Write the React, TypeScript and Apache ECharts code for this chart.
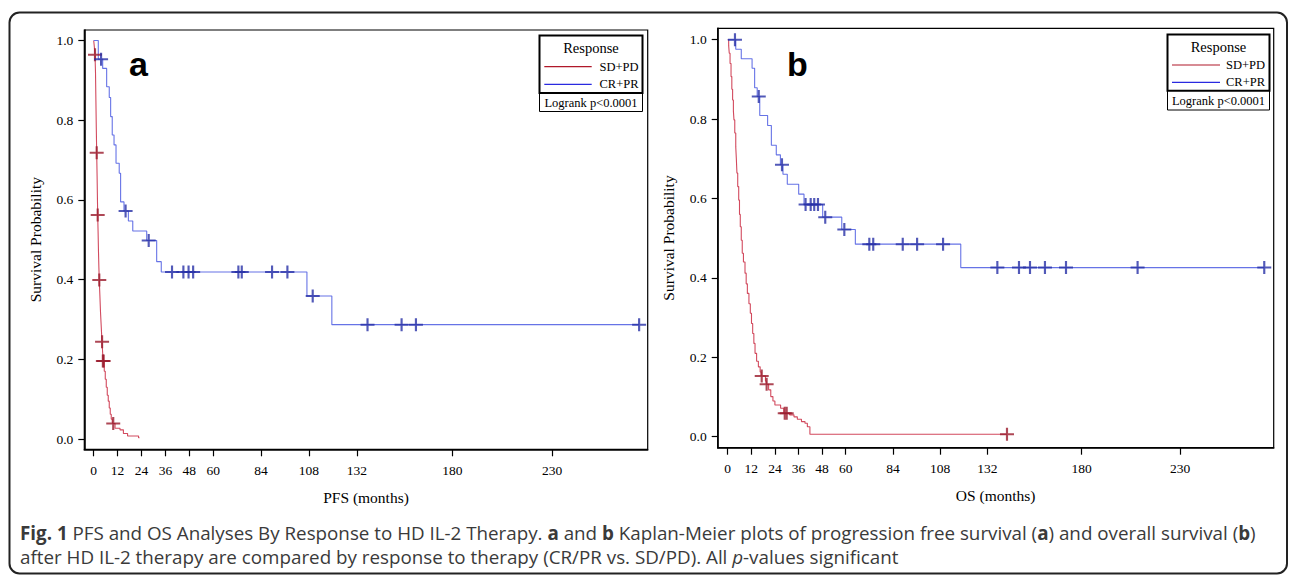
import React, { useEffect, useRef } from "react";
import * as echarts from "echarts";

// ---------- data ----------
const xTicks = [0, 12, 24, 36, 48, 60, 84, 108, 132, 180, 230];
const yTicks = [0, 0.2, 0.4, 0.6, 0.8, 1.0];

// Panel a: PFS (months, survival)
const pfsSdpd: [number, number][] = [
  [0, 1], [0.3, 0.985], [0.65, 0.964], [0.9, 0.92], [1.1, 0.85], [1.3, 0.78], [1.5, 0.718],
  [1.7, 0.66], [1.85, 0.61], [2.0, 0.562], [2.2, 0.52], [2.4, 0.47], [2.6, 0.43], [2.8, 0.399],
  [3.1, 0.36], [3.4, 0.32], [3.7, 0.29], [4.0, 0.26], [4.2, 0.244], [4.5, 0.215], [4.8, 0.196],
  [5.3, 0.17], [5.8, 0.15], [6.3, 0.13], [6.8, 0.11], [7.3, 0.095], [7.8, 0.078], [8.3, 0.062],
  [8.8, 0.05], [9.3, 0.042], [9.6, 0.039], [10.7, 0.027], [13.2, 0.023], [14.9, 0.014],
  [17, 0.0075], [22.5, 0.003], [23, 0.003],
];
const pfsSdpdCens: [number, number][] = [
  [0.65, 0.964], [1.5, 0.718], [2.0, 0.562], [2.8, 0.399], [4.2, 0.244], [4.6, 0.196], [5.0, 0.196], [9.8, 0.039],
];
const pfsCrpr: [number, number][] = [
  [0, 1], [2.3, 0.953], [4.5, 0.93], [6.5, 0.884], [7.8, 0.857], [8.5, 0.809], [9.3, 0.763],
  [10.2, 0.738], [11.2, 0.692], [12.8, 0.667], [13.5, 0.595], [15.2, 0.572], [17.4, 0.547],
  [19.6, 0.522], [26.6, 0.498], [31.6, 0.445], [33.9, 0.419], [107, 0.359], [119.5, 0.287],
  [273.7, 0.287],
];
const pfsCrprCens: [number, number][] = [
  [3.7, 0.953], [16.0, 0.572], [27.6, 0.498], [39.3, 0.419], [45, 0.419], [47.6, 0.419],
  [49.9, 0.419], [72.6, 0.419], [74.3, 0.419], [89.5, 0.419], [97.2, 0.419], [109.9, 0.359],
  [137.4, 0.287], [154.5, 0.287], [161.7, 0.287], [273.7, 0.287],
];

// Panel b: OS (months, survival)
const osSdpd: [number, number][] = [
  [0, 1], [0.5, 0.985], [0.8, 0.966], [1.2, 0.94], [1.7, 0.907], [2.1, 0.875], [2.5, 0.848],
  [2.9, 0.82], [3.2, 0.798], [3.6, 0.765], [4.1, 0.73], [4.4, 0.7], [4.7, 0.664], [5.1, 0.63],
  [5.6, 0.596], [6.0, 0.56], [6.4, 0.529], [6.9, 0.495], [7.4, 0.462], [8.0, 0.44], [8.8, 0.412],
  [9.4, 0.385], [10.0, 0.361], [10.8, 0.335], [11.5, 0.311], [12.1, 0.285], [12.7, 0.26],
  [13.3, 0.235], [13.9, 0.21], [14.7, 0.19], [15.6, 0.176], [16.5, 0.163], [17.0, 0.153],
  [19.2, 0.14], [19.6, 0.132], [20.8, 0.118], [21.9, 0.101], [23, 0.09], [24, 0.08],
  [26.9, 0.0715], [28.5, 0.059], [31.5, 0.055], [33.7, 0.05], [35.4, 0.044], [37.5, 0.038],
  [39.3, 0.034], [40.5, 0.025], [41.8, 0.006], [142, 0.006],
];
const osSdpdCens: [number, number][] = [
  [17.3, 0.153], [19.8, 0.132], [29.0, 0.059], [30.0, 0.059], [142, 0.006],
];
const osCrpr: [number, number][] = [
  [0, 1], [4.1, 0.976], [6.9, 0.952], [12.4, 0.928], [13.7, 0.879], [15.0, 0.857], [16.3, 0.809],
  [20.3, 0.784], [22.2, 0.734], [24.7, 0.71], [26.8, 0.685], [28.1, 0.661], [30.3, 0.636],
  [36.1, 0.611], [38.8, 0.585], [48.3, 0.553], [58.0, 0.522], [64.9, 0.485], [118.5, 0.426],
  [272.8, 0.426],
];
const osCrprCens: [number, number][] = [
  [3.7, 1.0], [15.8, 0.857], [27.6, 0.685], [39.6, 0.585], [42.2, 0.585], [44, 0.585],
  [45.9, 0.585], [49.6, 0.553], [59.3, 0.522], [72.0, 0.485], [74.0, 0.485], [89, 0.485],
  [96.3, 0.485], [109.5, 0.485], [137.1, 0.426], [148.1, 0.426], [153.7, 0.426], [161.3, 0.426],
  [172, 0.426], [208.4, 0.426], [272.8, 0.426],
];

const legendTitle = "Response";
const legendNames = ["SD+PD", "CR+PR"];
const logrankText = "Logrank p<0.0001";

// ---------- styles ----------
const SERIF = '"Liberation Serif", "Times New Roman", serif';
const RED_LINE = "#d24a5e";
const BLUE_LINE = "#6673e6";
const RED_MARK = "#9a1a2c";
const BLUE_MARK = "#2730a6";
const RED_LEG = "#b0182a";
const BLUE_LEG = "#2a2ae0";
const PLUS = "path://M5.5,0H7.5V5.5H13V7.5H7.5V13H5.5V7.5H0V5.5H5.5Z";

function xAxisFor(gridIndex: number, min: number, max: number, name: string) {
  return {
    gridIndex,
    type: "value",
    min,
    max,
    name,
    nameLocation: "middle",
    nameGap: 40,
    nameTextStyle: { fontFamily: SERIF, fontSize: 15.5, color: "#000" },
    axisLine: { show: true, onZero: false, lineStyle: { color: "#000", width: 1.6 } },
    axisTick: { show: true, length: 7, customValues: xTicks, lineStyle: { color: "#000", width: 1.2 } },
    axisLabel: { customValues: xTicks, fontFamily: SERIF, fontSize: 13.5, color: "#000", margin: 14 },
    splitLine: { show: false },
  };
}
function yAxisFor(gridIndex: number, min: number, max: number) {
  return {
    gridIndex,
    type: "value",
    min,
    max,
    name: "Survival Probability",
    nameLocation: "middle",
    nameGap: 41,
    nameTextStyle: { fontFamily: SERIF, fontSize: 15.5, color: "#000" },
    axisLine: { show: true, onZero: false, lineStyle: { color: "#000", width: 1.6 } },
    axisTick: { show: true, length: 6, customValues: yTicks, lineStyle: { color: "#000", width: 1.2 } },
    axisLabel: {
      customValues: yTicks,
      fontFamily: SERIF,
      fontSize: 13.5,
      color: "#000",
      margin: 11,
      formatter: (v: number) => v.toFixed(1),
    },
    splitLine: { show: false },
  };
}
function lineSeries(idx: number, data: [number, number][], color: string) {
  return {
    type: "line",
    xAxisIndex: idx,
    yAxisIndex: idx,
    data,
    step: "end",
    showSymbol: false,
    symbol: "none",
    lineStyle: { color, width: 1.1 },
    z: 2,
  };
}
function censSeries(idx: number, data: [number, number][], color: string) {
  return {
    type: "scatter",
    xAxisIndex: idx,
    yAxisIndex: idx,
    data,
    symbol: PLUS,
    symbolSize: [14, 13],
    itemStyle: { color },
    z: 3,
  };
}

function legendBox(x: number, y: number, w: number, hTop: number, hAll: number, lx1: number, lx2: number, tr: number, rowY: number[]) {
  const cx = x + w / 2;
  return {
    type: "group",
    children: [
      { type: "rect", shape: { x, y, width: w, height: hAll }, style: { fill: "#fff", stroke: "#000", lineWidth: 1 } },
      { type: "rect", shape: { x, y, width: w, height: hTop }, style: { fill: "none", stroke: "#000", lineWidth: 2 } },
      { type: "text", x: cx, y: rowY[0], style: { text: legendTitle, font: `14.5px ${SERIF}`, fill: "#000", align: "center", verticalAlign: "middle" } },
      { type: "line", shape: { x1: lx1, y1: rowY[1], x2: lx2, y2: rowY[1] }, style: { stroke: RED_LEG, lineWidth: 1.2 } },
      { type: "text", x: tr, y: rowY[1], style: { text: legendNames[0], font: `12.5px ${SERIF}`, fill: "#000", align: "right", verticalAlign: "middle" } },
      { type: "line", shape: { x1: lx1, y1: rowY[2], x2: lx2, y2: rowY[2] }, style: { stroke: BLUE_LEG, lineWidth: 1.2 } },
      { type: "text", x: tr, y: rowY[2], style: { text: legendNames[1], font: `12.5px ${SERIF}`, fill: "#000", align: "right", verticalAlign: "middle" } },
      { type: "text", x: cx, y: rowY[3], style: { text: logrankText, font: `12.5px ${SERIF}`, fill: "#000", align: "center", verticalAlign: "middle" } },
    ],
  };
}

export default function App() {
  const ref = useRef<HTMLDivElement>(null);
  useEffect(() => {
    document.body.style.margin = "0";
    if (!ref.current) return;
    const chart = echarts.init(ref.current, null, { renderer: "svg" });
    const CAP_FONT = '"Open Sans", "Noto Sans", sans-serif';
    const CAP_SIZE = 18.8;
    const option: any = {
      animation: false,
      backgroundColor: "#fff",
      grid: [
        { left: 84.3, top: 30, width: 563.4, height: 419.3, show: true, borderColor: "#000", borderWidth: 1.2, backgroundColor: "transparent" },
        { left: 717.7, top: 28.3, width: 556, height: 419.4, show: true, borderColor: "#000", borderWidth: 1.2, backgroundColor: "transparent" },
      ],
      xAxis: [xAxisFor(0, -4.72, 278, "PFS (months)"), xAxisFor(1, -5.08, 277.6, "OS (months)")],
      yAxis: [yAxisFor(0, -0.0258, 1.0263), yAxisFor(1, -0.0277, 1.0287)],
      series: [
        lineSeries(0, pfsSdpd, RED_LINE),
        lineSeries(0, pfsCrpr, BLUE_LINE),
        censSeries(0, pfsSdpdCens, RED_MARK),
        censSeries(0, pfsCrprCens, BLUE_MARK),
        lineSeries(1, osSdpd, RED_LINE),
        lineSeries(1, osCrpr, BLUE_LINE),
        censSeries(1, osSdpdCens, RED_MARK),
        censSeries(1, osCrprCens, BLUE_MARK),
      ],
      graphic: [
        {
          type: "rect",
          shape: { x: 9.5, y: 12.5, width: 1277.5, height: 561, r: 10 },
          style: { fill: "none", stroke: "#222", lineWidth: 2 },
          z: 0,
        },
        legendBox(539.5, 35.5, 103, 57.5, 76, 544.3, 591.7, 638.5, [48.3, 66.7, 84.3, 102.5]),
        legendBox(1167.5, 34.5, 102, 56.2, 75.5, 1172, 1220, 1265, [46.7, 65, 82.3, 101.3]),
        { type: "text", x: 129, y: 47, style: { text: "a", font: 'bold 34px "Liberation Sans", Arial, sans-serif', fill: "#000", verticalAlign: "top" } },
        { type: "text", x: 787, y: 47, style: { text: "b", font: 'bold 34px "Liberation Sans", Arial, sans-serif', fill: "#000", verticalAlign: "top" } },
        {
          type: "text",
          x: 20,
          y: 533,
          style: {
            text: "{b|Fig. 1} PFS and OS Analyses By Response to HD IL-2 Therapy. {b|a} and {b|b} Kaplan-Meier plots of progression free survival ({b|a}) and overall survival ({b|b})",
            font: `${CAP_SIZE}px ${CAP_FONT}`,
            fill: "#3a3a3a",
            verticalAlign: "middle",
            rich: {
              b: { fontFamily: CAP_FONT, fontSize: CAP_SIZE, fontWeight: "bold", fill: "#3a3a3a" },
            },
          },
        },
        {
          type: "text",
          x: 20,
          y: 557,
          style: {
            text: "after HD IL-2 therapy are compared by response to therapy (CR/PR vs. SD/PD). All {i|p}-values significant",
            font: `${CAP_SIZE}px ${CAP_FONT}`,
            fill: "#3a3a3a",
            verticalAlign: "middle",
            rich: {
              i: { fontFamily: CAP_FONT, fontSize: CAP_SIZE, fontStyle: "italic", fill: "#3a3a3a" },
            },
          },
        },
      ],
    };
    chart.setOption(option);
    return () => chart.dispose();
  }, []);
  return <div ref={ref} style={{ width: 1290, height: 576 }} />;
}
